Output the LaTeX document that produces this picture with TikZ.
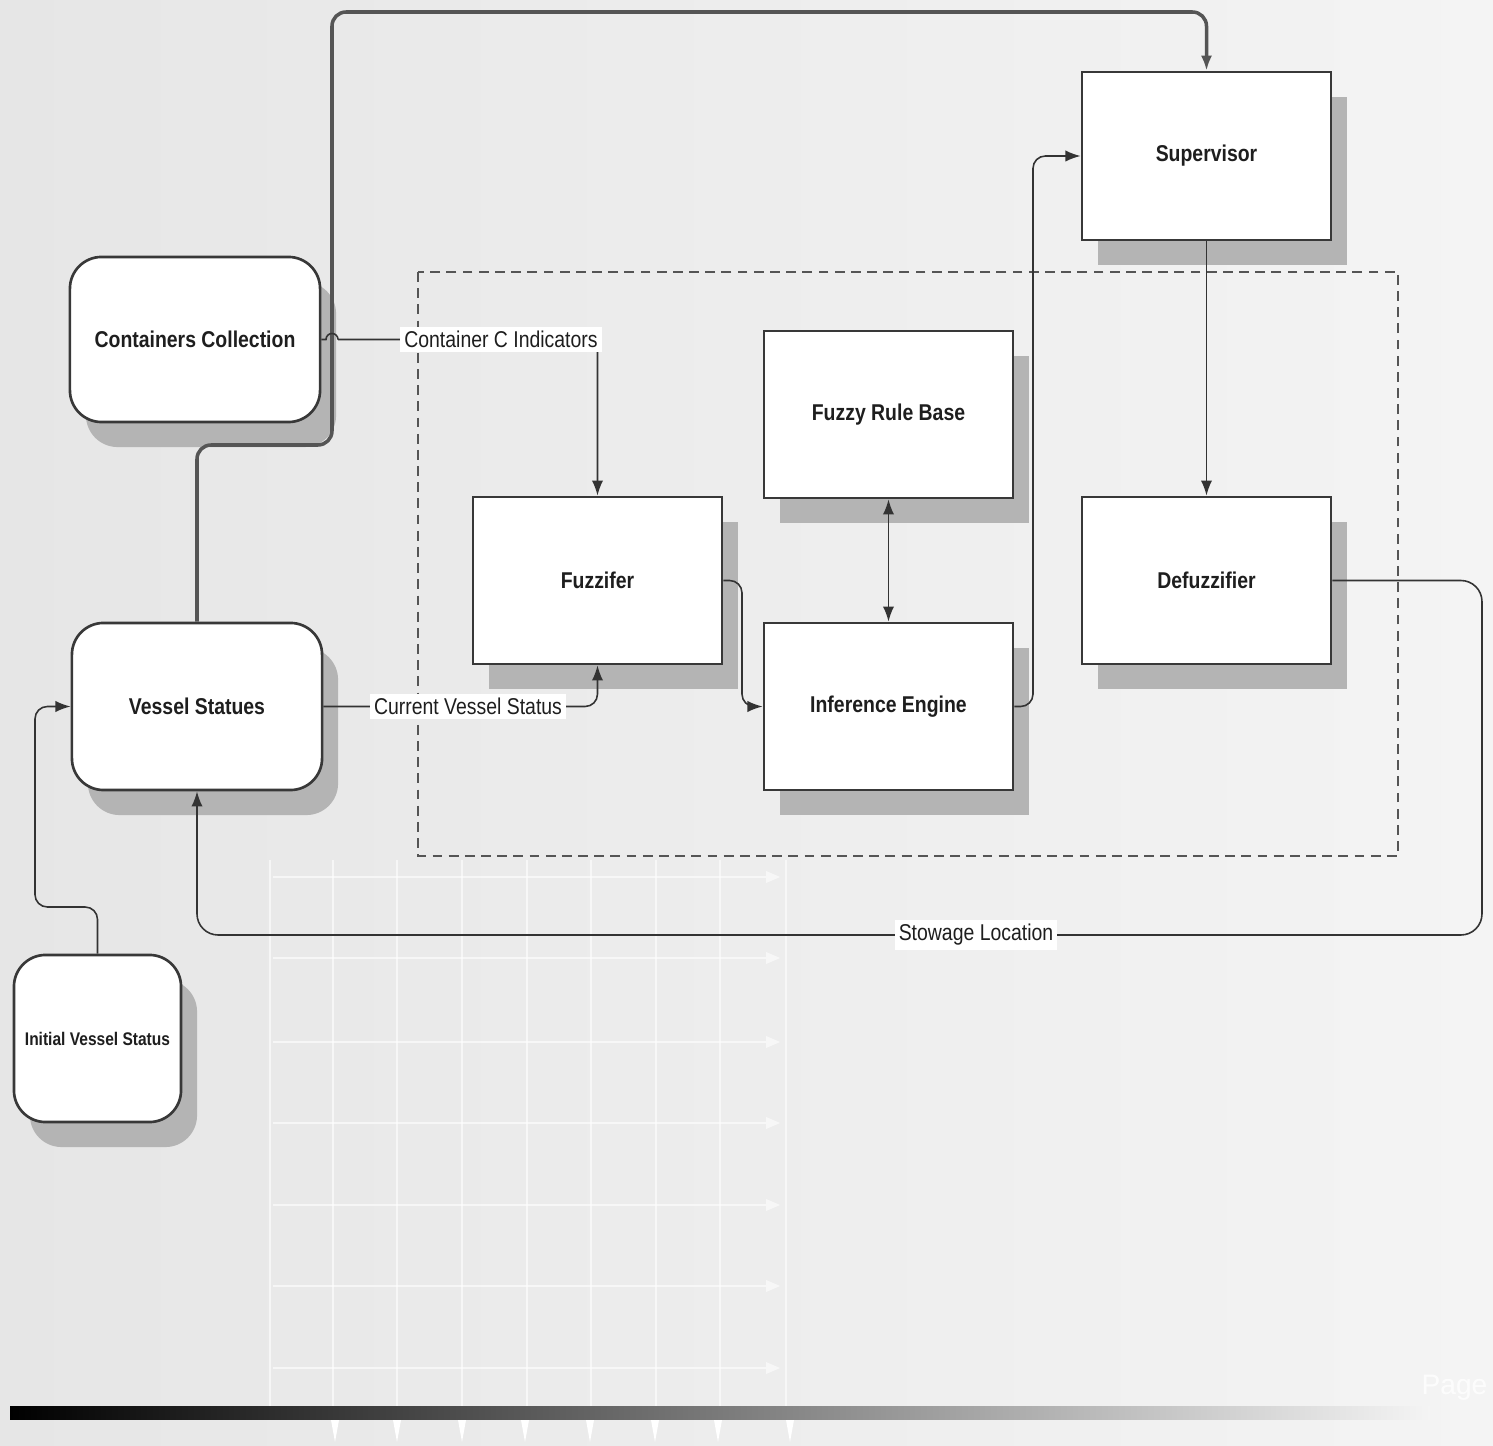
\documentclass[tikz,border=0pt]{standalone}
\usepackage{fontspec}
\setmainfont{Liberation Sans}
\newfontfamily\boxfont[FakeStretch=0.85]{Liberation Sans}
\usetikzlibrary{shadows,arrows.meta}
\definecolor{bgL}{HTML}{E6E6E6}
\definecolor{bgR}{HTML}{F4F4F4}
\definecolor{shadowgray}{HTML}{B4B4B4}
\definecolor{boxline}{HTML}{383838}
\definecolor{connline}{HTML}{333333}
\definecolor{topline}{HTML}{555555}
\definecolor{txt}{HTML}{1E1E1E}
\tikzset{
  boxbase/.style={draw=boxline, line width=0.75pt, fill=white, minimum width=2.49cm, minimum height=1.67cm,
    drop shadow={shadow xshift=0.16cm, shadow yshift=-0.25cm, fill=shadowgray, opacity=1},
    font=\boxfont\bfseries\fontsize{6.5}{7.5}\selectfont, text=txt, inner sep=0pt},
  sqbox/.style={boxbase},
  rbox/.style={boxbase, rounded corners=9pt},
  conn/.style={draw=connline, line width=0.45pt, rounded corners=3.5pt},
  arr/.style={-{Latex[length=4.3pt,width=3.2pt]}},
  lbl/.style={fill=white, inner sep=1.2pt, font=\boxfont\fontsize{6.5}{7.5}\selectfont, text=txt},
  gridline/.style={draw=white, line width=0.45pt, opacity=0.6},
}
\begin{document}
\begin{tikzpicture}[x=0.01cm,y=-0.01cm]
\useasboundingbox (0,0) rectangle (1493,1446);
% background
\shade[left color=bgL, right color=bgR] (0,0) rectangle (1493,1446);
% faint background grid
\foreach \gx in {270,333,397,462,527,591,656,720,786}
  \draw[gridline] (\gx,860) -- (\gx,1420);
\foreach \gy in {877,958,1042,1123,1205,1286,1368}{
  \draw[gridline] (273,\gy) -- (766,\gy);
  \fill[white,opacity=0.6] (766,\gy-6) -- (780,\gy) -- (766,\gy+6) -- cycle;
}
% bottom gradient bar
\shade[left color=black, middle color=black!55, right color=bgR] (10,1406) rectangle (1430,1419);
\foreach \tx in {335,397,462,525,590,655,718,790}
  \fill[white] (\tx-4,1420) -- (\tx+4,1420) -- (\tx,1442) -- cycle;
\node[white, opacity=0.8, anchor=east, inner sep=0pt, font=\fontsize{8}{9}\selectfont] (pagelbl) at (1488,1388) {Page};

% dashed frame
\draw[draw=topline, line width=0.5pt, dash pattern=on 2.8pt off 1.8pt] (418,272) rectangle (1398,856);

% nodes
\node[rbox, minimum width=2.50cm, minimum height=1.65cm] (cc) at (195,339.5) {Containers Collection};
\node[rbox, minimum width=2.50cm, minimum height=1.67cm] (vs) at (197,706.5) {Vessel Statues};
\node[rbox, minimum width=1.67cm, minimum height=1.67cm, font=\boxfont\bfseries\fontsize{5.2}{6}\selectfont] (ivs) at (97.5,1038.5) {Initial Vessel Status};
\node[sqbox, minimum height=1.68cm] (sup) at (1206.5,156) {Supervisor};
\node[sqbox] (frb) at (888.5,414.5) {Fuzzy Rule Base};
\node[sqbox] (fuz) at (597.5,580.5) {Fuzzifer};
\node[sqbox] (def) at (1206.5,580.5) {Defuzzifier};
\node[sqbox] (ie) at (888.5,706.5) {Inference Engine};

% Vessel Statues -> Supervisor (top route)
\draw[conn, draw=topline, line width=1pt, rounded corners=4pt, arr]
  (vs.north) -- (197,445) -- (332,445) -- (332,12) -- (1206.5,12) -- (sup.north);

% Containers Collection -> Fuzzifer
\draw[conn, rounded corners=0pt] (cc.east) -- (326,339.5) arc[start angle=180, end angle=0, radius=0.06cm];
\draw[conn, arr] (338,339.5) -- (597.5,339.5) -- (fuz.north);
\node[lbl] (lcc) at (501,339.5) {Container C Indicators};

% Vessel Statues -> Fuzzifer
\draw[conn, arr] (vs.east) -- (597.5,706.5) -- (fuz.south);
\node[lbl] (lvs) at (468,706.5) {Current Vessel Status};

% Fuzzifer -> Inference Engine
\draw[conn, arr] (fuz.east) -- (742,580.5) -- (742,706.5) -- (ie.west);

% Fuzzy Rule Base <-> Inference Engine
\draw[conn, {Latex[length=4.3pt,width=3.2pt]}-{Latex[length=4.3pt,width=3.2pt]}] (frb.south) -- (ie.north);

% Inference Engine -> Supervisor
\draw[conn, arr] (ie.east) -- (1033,706.5) -- (1033,156) -- (sup.west);

% Supervisor -> Defuzzifier
\draw[conn, arr] (sup.south) -- (def.north);

% Defuzzifier -> Vessel Statues
\draw[conn, rounded corners=6pt, arr] (def.east) -- (1482,580.5) -- (1482,935) -- (197,935) -- (vs.south);
\node[lbl] (lsl) at (976,935) {Stowage Location};

% Initial Vessel Status -> Vessel Statues
\draw[conn, arr] (ivs.north) -- (97.5,907) -- (35,907) -- (35,706.5) -- (vs.west);
\end{tikzpicture}
\end{document}
